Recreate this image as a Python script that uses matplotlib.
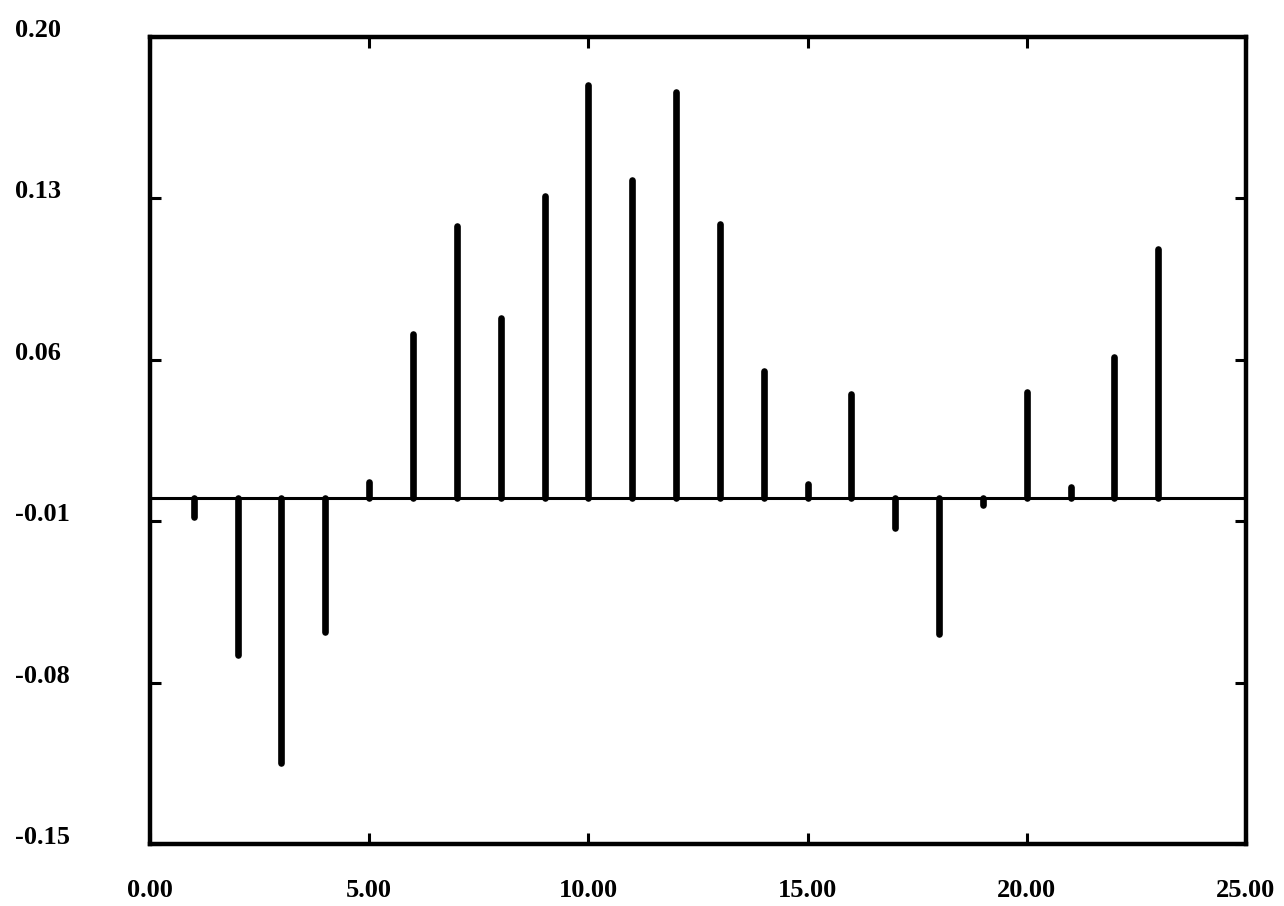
import numpy as np
import matplotlib.pyplot as plt

# lag index and coefficient at each lag
lags = np.arange(1, 24)
coef = [-0.008, -0.068, -0.115, -0.058, 0.007, 0.071, 0.118, 0.078, 0.131,
        0.179, 0.138, 0.176, 0.119, 0.055, 0.006, 0.045, -0.013, -0.059,
        -0.003, 0.046, 0.005, 0.061, 0.108]

xticks = [0, 5, 10, 15, 20, 25]
yticks = [-0.15, -0.08, -0.01, 0.06, 0.13, 0.20]

plt.rcParams['font.family'] = ['Liberation Serif', 'DejaVu Serif']

fig = plt.figure(figsize=(12.84, 9.06), dpi=100)
ax = fig.add_axes([0.1168, 0.0684, 0.8536, 0.8908])

# zero line and the stems
ax.axhline(0, color='black', lw=2.2, zorder=2)
stems = ax.vlines(lags, 0, coef, color='black', lw=4.8, zorder=3)
stems.set_capstyle('round')

ax.set_xlim(0, 25)
ax.set_ylim(-0.15, 0.20)
ax.set_xticks(xticks)
ax.set_xticklabels([f'{t:.2f}' for t in xticks])
ax.set_yticks(yticks)
ax.set_yticklabels([f'{t:.2f}' for t in yticks])

for s in ax.spines.values():
    s.set_linewidth(3.2)

ax.tick_params(direction='in', length=8, width=2.2, top=True, right=True,
               labelsize=19)
ax.tick_params(axis='x', pad=25)
ax.tick_params(axis='y', pad=97)
for lbl in ax.get_yticklabels():
    lbl.set_horizontalalignment('left')
    lbl.set_verticalalignment('baseline')
for lbl in ax.get_xticklabels() + ax.get_yticklabels():
    lbl.set_fontweight('bold')

fig.savefig('out.png', dpi=100, facecolor='white')
